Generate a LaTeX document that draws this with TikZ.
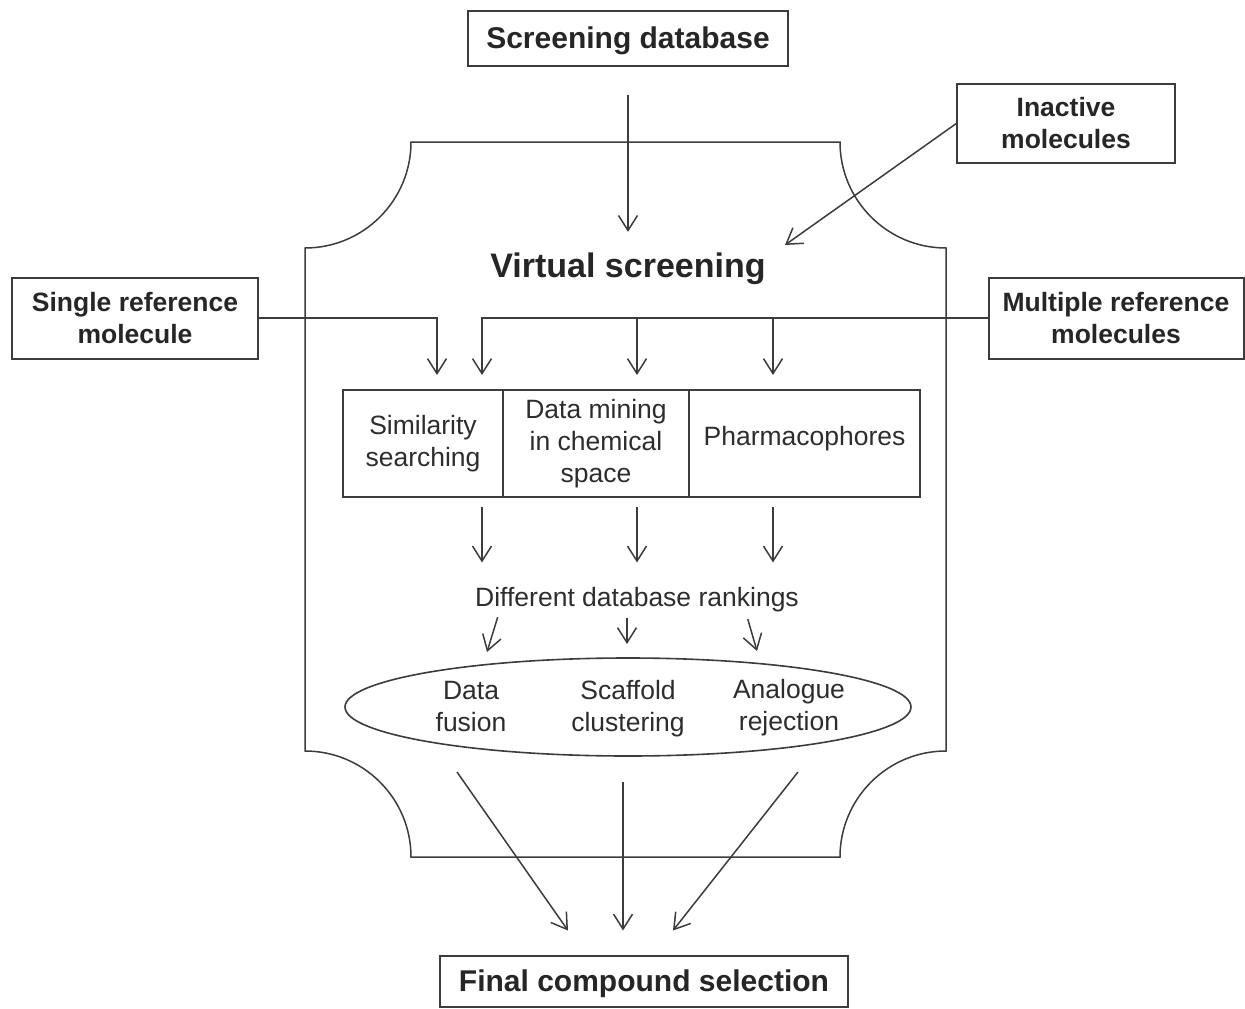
\documentclass[tikz,border=0pt]{standalone}
\usepackage{fontspec}
\setmainfont{Liberation Sans}
\usetikzlibrary{positioning,arrows.meta,shapes.geometric,calc}
\definecolor{inkgray}{RGB}{60,60,60}
\definecolor{textgray}{RGB}{45,45,45}
\tikzset{
  titlebox/.style={rectangle,draw=inkgray,line width=2pt,text=black!85,
    font=\bfseries\fontsize{30}{34}\selectfont,inner sep=0pt,outer sep=0pt,
    text height=21.5pt,text depth=0pt},
  sidebox/.style={rectangle,draw=inkgray,line width=2pt,text=black!85,align=center,
    font=\bfseries\fontsize{26.5}{32}\selectfont,inner sep=0pt,outer sep=0pt},
  cellbox/.style={rectangle,draw=inkgray,line width=1.6pt,text=textgray,align=center,
    font=\fontsize{26.5}{32}\selectfont,inner sep=0pt,outer sep=0pt,minimum height=107pt},
  plain/.style={text=textgray,align=center,font=\fontsize{26.5}{32}\selectfont,inner sep=0pt},
  feed/.style={draw=inkgray,line width=1.5pt},
  arr/.style={feed,-{Straight Barb[length=15pt,width=19pt]}},
}

\begin{document}
\begin{tikzpicture}[x=1pt,y=-1pt]
\useasboundingbox (0,0) rectangle (1245,1009);
% frame with concave corners
\draw[feed] (411,142) -- (840,142) arc[start angle=180,end angle=270,radius=106pt]
  -- (946,751) arc[start angle=90,end angle=180,radius=106pt]
  -- (411,857) arc[start angle=0,end angle=90,radius=106pt]
  -- (305,248) arc[start angle=270,end angle=360,radius=106pt] -- cycle;

% boxes
\node[titlebox,minimum width=320pt,minimum height=55pt] (screendb) at (628,38) {Screening database};
\node[sidebox,minimum width=218pt,minimum height=79pt] (inactive) at (1066,123) {Inactive\\molecules};
\node[sidebox,minimum width=246pt,minimum height=81pt] (single) at (135,318) {Single reference\\molecule};
\node[sidebox,minimum width=255pt,minimum height=81pt] (multiple) at (1116,318) {Multiple reference\\molecules};
\node[font=\bfseries\fontsize{34}{40}\selectfont,text=black!85,inner sep=0pt] (vs) at (628,269) {Virtual screening};

% methods table
\node[cellbox,minimum width=160pt] (sim) at (423,443.5) {Similarity\\searching};
\node[cellbox,minimum width=186pt] (mining) at (596,443.5) {Data mining\\in chemical\\space};
\node[cellbox,minimum width=231pt,text depth=15pt] (pharma) at (804.5,443.5) {Pharmacophores};

\node[plain] (rank) at (637,600) {Different database rankings};
\node[ellipse,draw=inkgray,line width=1.6pt,minimum width=566pt,minimum height=98pt,inner sep=0pt] (methods) at (628,707) {};
\node[plain] (fusion) at (471,707) {Data\\fusion};
\node[plain] (scaffold) at (628,709) {Scaffold\\clustering};
\node[plain] (analogue) at (789,708) {Analogue\\rejection};
\node[titlebox,minimum width=408pt,minimum height=51pt] (final) at (644,981) {Final compound selection};

% arrow columns and free ends
\coordinate (colS) at (437,318);
\coordinate (colA) at (482,318);
\coordinate (colB) at (637,318);
\coordinate (colC) at (773,318);
\coordinate (vsin) at (785,245);
\coordinate (tipF) at (487,652);
\coordinate (tipS) at (627,644);
\coordinate (tipA) at (757,651);
\coordinate (outF) at (457,772);
\coordinate (outS) at (623,782);
\coordinate (outA) at (798,772);

\draw[arr,shorten <=29.5pt,shorten >=21pt] (screendb.south) -- (vs.north);
\draw[arr] (inactive.west) -- (vsin);
\draw[arr,shorten >=15pt] (single.east) -- (colS) -- (colS |- sim.north);
\draw[arr,shorten >=15pt] (multiple.west) -- (colA) -- (colA |- sim.north);
\draw[arr,shorten >=15pt] (colB) -- (colB |- mining.north);
\draw[arr,shorten >=15pt] (colC) -- (colC |- pharma.north);

\foreach \c in {colA,colB,colC}
  \draw[arr,shorten <=10pt,shorten >=25pt] (\c |- sim.south) -- (\c |- rank.north);

\draw[arr,shorten <=8pt] ([xshift=-137pt,yshift=3pt]rank.south) -- (tipF);
\draw[arr,shorten <=8pt] ([xshift=-10pt,yshift=3pt]rank.south) -- (tipS);
\draw[arr,shorten <=10pt] ([xshift=108pt,yshift=3pt]rank.south) -- (tipA);

\draw[arr] (outF) -- ([xshift=-76pt,yshift=25pt]final.north);
\draw[arr] (outS) -- ([xshift=-21pt,yshift=25pt]final.north);
\draw[arr] (outA) -- ([xshift=29pt,yshift=25pt]final.north);
\end{tikzpicture}
\end{document}
